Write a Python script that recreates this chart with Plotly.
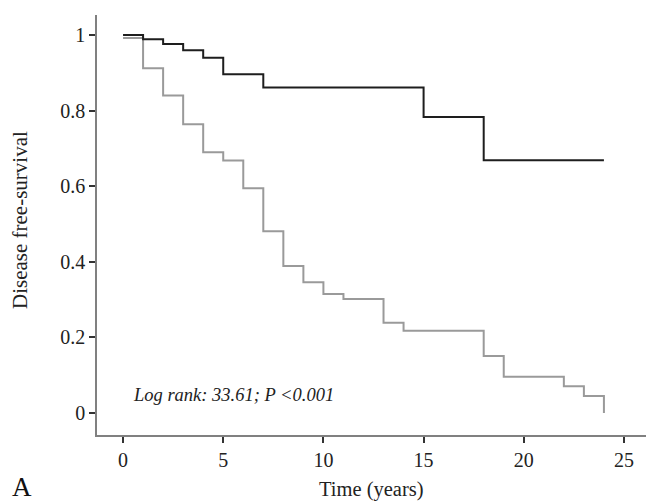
import plotly.graph_objects as go

# Black curve (upper group)
black_t = [0, 1, 2, 3, 4, 5, 7, 15, 18, 24]
black_s = [1.0, 0.989, 0.976, 0.96, 0.94, 0.896, 0.861, 0.783, 0.669, 0.669]

# Gray curve (lower group)
gray_t = [0, 1, 2, 3, 4, 5, 6, 7, 8, 9, 10, 11, 13, 14, 18, 19, 22, 23, 24]
gray_s = [0.992, 0.912, 0.84, 0.764, 0.69, 0.668, 0.595, 0.481, 0.389, 0.346,
          0.315, 0.302, 0.239, 0.218, 0.151, 0.096, 0.071, 0.045, 0.0]

x_ticks = [0, 5, 10, 15, 20, 25]
y_ticks = [0, 0.2, 0.4, 0.6, 0.8, 1]
y_tick_labels = ["0", "0.2", "0.4", "0.6", "0.8", "1"]

annotation_text = "Log rank: 33.61; P <0.001"
x_title = "Time (years)"
y_title = "Disease free-survival"
panel_label = "A"

font_family = "Liberation Serif, Times New Roman, serif"

L, R, T, B = 97, 2, 15, 67
W, H = 648, 502
PW, PH = W - L - R, H - T - B

def px(xp):
    return (xp - L) / PW

def py(yp):
    return (H - B - yp) / PH

fig = go.Figure()
fig.add_trace(go.Scatter(x=gray_t, y=gray_s, mode="lines", line_shape="hv",
                         line=dict(color="#9a9a9a", width=2), showlegend=False))
fig.add_trace(go.Scatter(x=black_t, y=black_s, mode="lines", line_shape="hv",
                         line=dict(color="#1e1e1e", width=2), showlegend=False))

fig.add_annotation(x=0.4, y=0.047, xref="x", yref="y", text="<i>" + annotation_text + "</i>",
                   showarrow=False, xanchor="left", yanchor="middle",
                   font=dict(family=font_family, size=18.5, color="#222"))
fig.add_annotation(x=px(371), y=py(489), xref="paper", yref="paper", text=x_title,
                   showarrow=False, xanchor="center", yanchor="middle",
                   font=dict(family=font_family, size=20.5, color="#222"))
fig.add_annotation(x=px(20), y=py(220), xref="paper", yref="paper", text=y_title,
                   showarrow=False, xanchor="center", yanchor="middle", textangle=-90,
                   font=dict(family=font_family, size=21, color="#222"))
fig.add_annotation(x=px(22), y=py(487), xref="paper", yref="paper", text=panel_label,
                   showarrow=False, xanchor="center", yanchor="middle",
                   font=dict(family=font_family, size=27, color="#111"))

fig.update_layout(
    width=W, height=H,
    margin=dict(l=L, r=R, t=T, b=B),
    plot_bgcolor="white", paper_bgcolor="white",
    font=dict(family=font_family, size=20, color="#222"),
    xaxis=dict(range=[-1.3, 26.1], tickvals=x_ticks, showgrid=False, zeroline=False,
               showline=True, linecolor="#808080", linewidth=1.5, automargin=False,
               ticks="outside", ticklen=6, tickwidth=1.5, tickcolor="#333"),
    yaxis=dict(range=[-0.058, 1.053], tickvals=y_ticks, ticktext=y_tick_labels,
               showgrid=False, zeroline=False, automargin=False,
               showline=True, linecolor="#808080", linewidth=1.5,
               ticks="outside", ticklen=6, tickwidth=1.5, tickcolor="#333"),
)

fig.write_html("out.html", config={"displayModeBar": False},
               post_script="document.body.style.margin='0px';document.body.style.overflow='hidden';")
